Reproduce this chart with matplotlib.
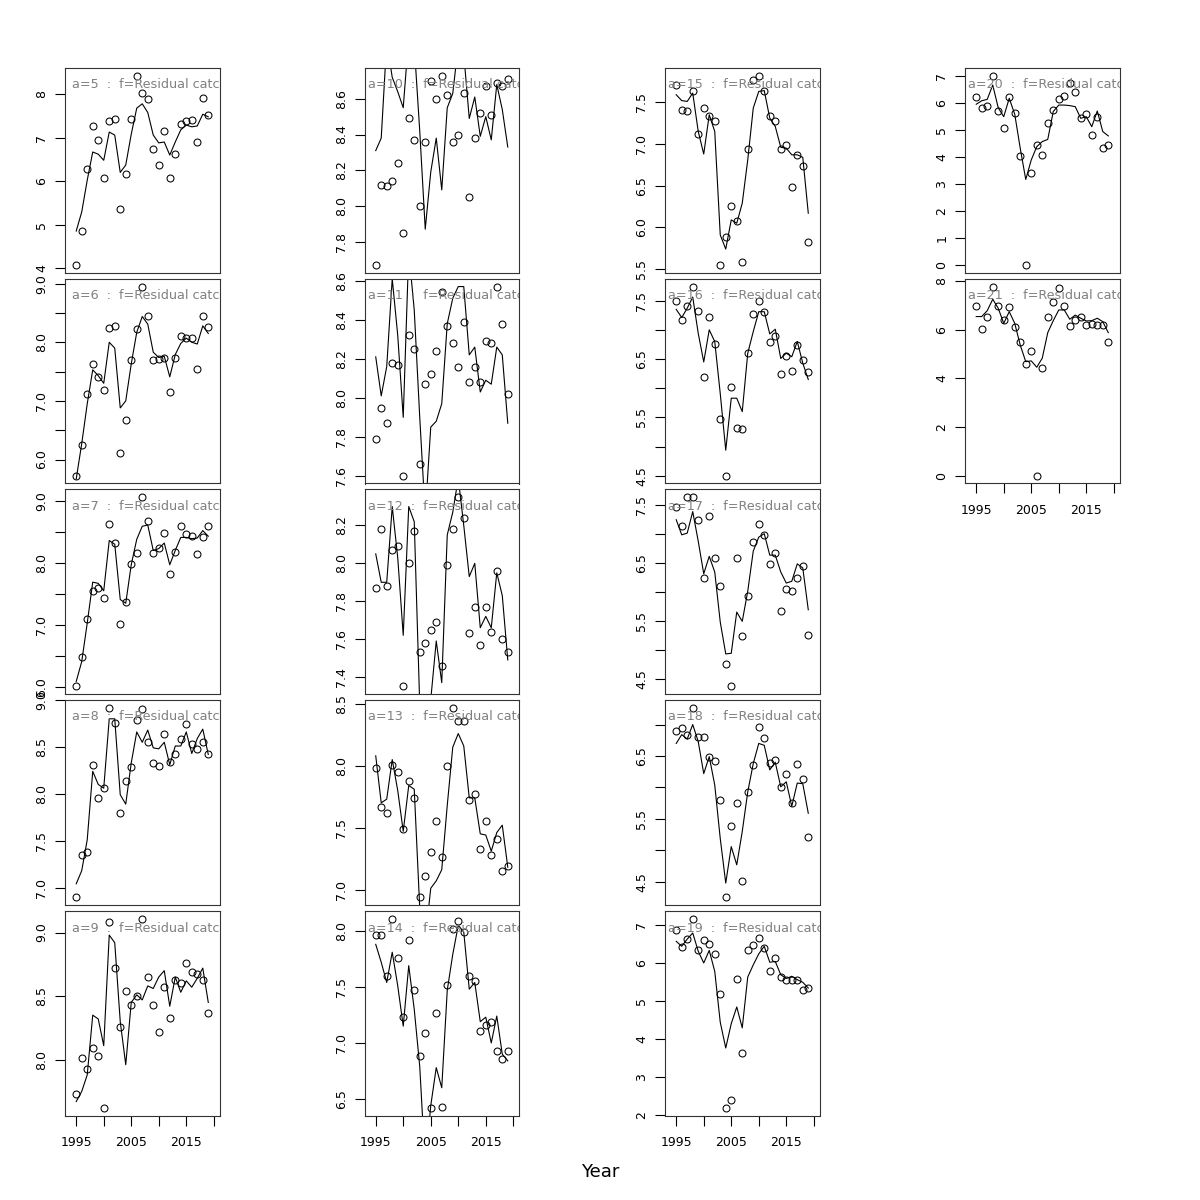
import numpy as np
import matplotlib.pyplot as plt

years = np.arange(1995, 2020)

# observed (points) and fitted (line) log catch per age
obs_5 = [4.07, 4.84, 6.28, 7.27, 6.95, 6.08, 7.38, 7.42, 5.35, 6.17, 7.42, 8.43, 8.04, 7.88, 6.73, 6.38, 7.16, 6.08, 6.63, 7.32, 7.38, 7.40, 6.90, 7.91, 7.52]
fit_5 = [4.85, 5.29, 6.02, 6.67, 6.62, 6.48, 7.13, 7.06, 6.20, 6.37, 7.08, 7.68, 7.78, 7.58, 7.06, 6.88, 6.90, 6.60, 6.90, 7.18, 7.29, 7.25, 7.27, 7.54, 7.48]
obs_6 = [5.72, 6.24, 7.11, 7.63, 7.41, 7.19, 8.24, 8.27, 6.11, 6.68, 7.70, 8.23, 8.95, 8.45, 7.69, 7.72, 7.73, 7.16, 7.74, 8.10, 8.07, 8.07, 7.55, 8.44, 8.26]
fit_6 = [5.67, 6.27, 6.95, 7.53, 7.43, 7.30, 8.00, 7.90, 6.88, 7.00, 7.63, 8.17, 8.44, 8.31, 7.83, 7.74, 7.76, 7.41, 7.79, 7.98, 8.07, 8.00, 7.97, 8.28, 8.15]
obs_7 = [6.01, 6.48, 7.09, 7.55, 7.59, 7.44, 8.63, 8.32, 7.01, 7.37, 7.98, 8.16, 9.06, 8.68, 8.16, 8.24, 8.48, 7.82, 8.17, 8.60, 8.46, 8.44, 8.15, 8.42, 8.60]
fit_7 = [6.09, 6.41, 7.03, 7.69, 7.67, 7.55, 8.36, 8.30, 7.41, 7.35, 7.97, 8.38, 8.59, 8.61, 8.20, 8.23, 8.32, 7.97, 8.20, 8.41, 8.41, 8.39, 8.40, 8.52, 8.43]
obs_8 = [6.90, 7.35, 7.38, 8.31, 7.96, 8.06, 8.92, 8.76, 7.80, 8.14, 8.29, 8.79, 8.90, 8.55, 8.33, 8.30, 8.64, 8.34, 8.42, 8.59, 8.74, 8.53, 8.48, 8.55, 8.42]
fit_8 = [7.04, 7.18, 7.51, 8.24, 8.10, 8.06, 8.80, 8.80, 7.99, 7.89, 8.33, 8.66, 8.55, 8.68, 8.49, 8.48, 8.55, 8.31, 8.51, 8.51, 8.66, 8.43, 8.59, 8.69, 8.42]
obs_9 = [7.73, 8.01, 7.93, 8.09, 8.03, 7.62, 9.08, 8.72, 8.26, 8.54, 8.43, 8.50, 9.11, 8.65, 8.43, 8.22, 8.57, 8.33, 8.63, 8.60, 8.76, 8.69, 8.67, 8.63, 8.37]
fit_9 = [7.67, 7.75, 7.88, 8.35, 8.32, 8.11, 8.98, 8.92, 8.30, 7.96, 8.45, 8.51, 8.47, 8.58, 8.56, 8.65, 8.70, 8.42, 8.65, 8.53, 8.62, 8.57, 8.64, 8.72, 8.45]
obs_10 = [7.67, 8.12, 8.11, 8.14, 8.24, 7.85, 8.49, 8.37, 8.00, 8.36, 8.70, 8.60, 8.73, 8.62, 8.36, 8.40, 8.63, 8.05, 8.38, 8.52, 8.67, 8.51, 8.69, 8.67, 8.71]
fit_10 = [8.31, 8.38, 8.92, 8.72, 8.64, 8.55, 8.95, 8.90, 8.42, 7.87, 8.19, 8.38, 8.09, 8.55, 8.63, 8.90, 8.85, 8.49, 8.61, 8.39, 8.50, 8.37, 8.68, 8.54, 8.33]
obs_11 = [7.79, 7.95, 7.87, 8.18, 8.17, 7.60, 8.32, 8.25, 7.66, 8.07, 8.12, 8.24, 8.54, 8.37, 8.28, 8.16, 8.39, 8.08, 8.16, 8.08, 8.29, 8.28, 8.57, 8.38, 8.02]
fit_11 = [8.21, 8.01, 8.16, 8.61, 8.32, 7.90, 8.75, 8.45, 7.90, 7.40, 7.85, 7.88, 7.97, 8.38, 8.51, 8.57, 8.57, 8.22, 8.26, 8.03, 8.09, 8.07, 8.26, 8.22, 7.87]
obs_12 = [7.87, 8.18, 7.88, 8.07, 8.09, 7.35, 8.00, 8.17, 7.53, 7.58, 7.65, 7.69, 7.46, 7.99, 8.18, 8.35, 8.24, 7.63, 7.77, 7.57, 7.77, 7.64, 7.96, 7.60, 7.53]
fit_12 = [8.05, 7.90, 7.90, 8.30, 8.03, 7.62, 8.30, 8.22, 7.25, 7.00, 7.28, 7.59, 7.37, 8.15, 8.27, 8.45, 8.20, 7.93, 8.00, 7.66, 7.72, 7.66, 7.95, 7.83, 7.49]
obs_13 = [7.98, 7.67, 7.62, 8.01, 7.95, 7.49, 7.88, 7.74, 6.94, 7.11, 7.30, 7.55, 7.26, 8.00, 8.47, 8.36, 8.36, 7.72, 7.77, 7.33, 7.55, 7.28, 7.41, 7.15, 7.19]
fit_13 = [8.08, 7.70, 7.73, 8.05, 7.80, 7.47, 7.84, 7.81, 6.85, 6.60, 7.01, 7.07, 7.16, 7.68, 8.15, 8.26, 8.16, 7.74, 7.74, 7.45, 7.44, 7.31, 7.46, 7.52, 7.18]
obs_14 = [7.96, 7.96, 7.60, 8.11, 7.76, 7.23, 7.92, 7.47, 6.88, 7.09, 6.42, 7.27, 6.43, 7.52, 8.02, 8.09, 7.99, 7.60, 7.55, 7.11, 7.16, 7.19, 6.93, 6.86, 6.93]
fit_14 = [7.88, 7.72, 7.54, 7.81, 7.51, 7.15, 7.69, 7.30, 6.79, 5.90, 6.44, 6.78, 6.60, 7.47, 7.79, 8.05, 7.99, 7.48, 7.54, 7.19, 7.23, 7.00, 7.24, 6.90, 6.84]
obs_15 = [7.71, 7.41, 7.39, 7.63, 7.12, 7.43, 7.34, 7.27, 5.55, 5.88, 6.26, 6.08, 5.58, 6.94, 7.77, 7.82, 7.63, 7.33, 7.28, 6.94, 6.99, 6.48, 6.87, 6.74, 5.82]
fit_15 = [7.59, 7.52, 7.51, 7.61, 7.15, 6.88, 7.35, 7.15, 5.91, 5.74, 6.09, 6.05, 6.29, 6.81, 7.43, 7.63, 7.64, 7.31, 7.21, 6.96, 6.95, 6.87, 6.87, 6.84, 6.17]
obs_16 = [7.50, 7.16, 7.40, 7.74, 7.32, 6.20, 7.22, 6.76, 5.47, 4.50, 6.03, 5.32, 5.31, 6.61, 7.27, 7.50, 7.30, 6.79, 6.89, 6.24, 6.56, 6.30, 6.74, 6.49, 6.28]
fit_16 = [7.35, 7.21, 7.37, 7.56, 6.94, 6.45, 7.00, 6.80, 5.91, 4.94, 5.83, 5.83, 5.60, 6.60, 6.97, 7.31, 7.31, 6.93, 7.01, 6.51, 6.60, 6.54, 6.80, 6.43, 6.15]
obs_17 = [7.47, 7.15, 7.64, 7.64, 7.24, 6.25, 7.32, 6.59, 6.11, 4.77, 4.38, 6.59, 5.25, 5.93, 6.87, 7.18, 6.99, 6.49, 6.68, 5.68, 6.06, 6.02, 6.24, 6.46, 5.26]
fit_17 = [7.25, 6.99, 7.02, 7.39, 6.88, 6.32, 6.62, 6.35, 5.49, 4.94, 4.95, 5.66, 5.50, 6.02, 6.71, 6.95, 7.01, 6.64, 6.64, 6.35, 6.16, 6.19, 6.49, 6.42, 5.70]
obs_18 = [6.90, 6.95, 6.83, 7.27, 6.80, 6.80, 6.48, 6.42, 5.80, 4.26, 5.39, 5.76, 4.51, 5.92, 6.36, 6.96, 6.79, 6.39, 6.44, 6.00, 6.22, 5.76, 6.38, 6.13, 5.21]
fit_18 = [6.70, 6.84, 6.77, 7.00, 6.73, 6.22, 6.49, 6.04, 5.19, 4.48, 5.06, 4.77, 5.30, 5.93, 6.38, 6.70, 6.67, 6.28, 6.40, 6.01, 6.09, 5.70, 6.07, 6.06, 5.59]
obs_19 = [6.89, 6.42, 6.63, 7.18, 6.34, 6.61, 6.51, 6.24, 5.18, 2.19, 2.39, 5.59, 3.64, 6.34, 6.48, 6.68, 6.40, 5.80, 6.14, 5.65, 5.57, 5.57, 5.56, 5.29, 5.35]
fit_19 = [6.58, 6.45, 6.64, 6.80, 6.32, 6.01, 6.34, 5.79, 4.45, 3.77, 4.41, 4.85, 4.30, 5.64, 5.96, 6.25, 6.45, 6.03, 6.05, 5.70, 5.60, 5.66, 5.57, 5.50, 5.35]
obs_20 = [6.19, 5.81, 5.86, 7.00, 5.69, 5.05, 6.21, 5.60, 4.01, 0.00, 3.38, 4.43, 4.07, 5.23, 5.73, 6.12, 6.25, 6.74, 6.38, 5.43, 5.58, 4.81, 5.48, 4.31, 4.43]
fit_20 = [5.94, 6.07, 6.12, 6.65, 5.81, 5.48, 6.16, 5.57, 4.31, 3.16, 3.88, 4.37, 4.56, 4.64, 5.67, 5.91, 5.91, 5.89, 5.85, 5.42, 5.48, 5.11, 5.69, 4.93, 4.77]
obs_21 = [6.99, 6.02, 6.51, 7.77, 6.99, 6.40, 6.92, 6.13, 5.51, 4.59, 5.13, 0.00, 4.44, 6.52, 7.12, 7.73, 6.99, 6.15, 6.40, 6.51, 6.19, 6.22, 6.19, 6.19, 5.51]
fit_21 = [6.54, 6.54, 6.78, 7.25, 6.88, 6.26, 6.74, 6.26, 5.37, 4.69, 4.72, 4.46, 4.83, 5.88, 6.37, 6.81, 6.81, 6.43, 6.60, 6.47, 6.36, 6.37, 6.47, 6.33, 5.88]

panels = [
    (5, obs_5, fit_5), (6, obs_6, fit_6), (7, obs_7, fit_7), (8, obs_8, fit_8), (9, obs_9, fit_9),
    (10, obs_10, fit_10), (11, obs_11, fit_11), (12, obs_12, fit_12), (13, obs_13, fit_13), (14, obs_14, fit_14),
    (15, obs_15, fit_15), (16, obs_16, fit_16), (17, obs_17, fit_17), (18, obs_18, fit_18), (19, obs_19, fit_19),
    (20, obs_20, fit_20), (21, obs_21, fit_21),
]

# y tick step per age, and whether every other label is dropped (as R does)
tick_step = {5: 1, 6: 0.5, 7: 0.5, 8: 0.5, 9: 0.5, 10: 0.2, 11: 0.2, 12: 0.2, 13: 0.5,
             14: 0.5, 15: 0.5, 16: 0.5, 17: 0.5, 18: 0.5, 19: 1, 20: 1, 21: 2}
label_every = {6: 2, 7: 2, 16: 2, 17: 2, 18: 2}
bottom_ages = [9, 14, 19, 21]

W = H = 1200
col_left = [65, 364.5, 665, 965]
row_top = [68, 279, 489.5, 700, 911]
pw, ph = 154.5, 204.5

fig = plt.figure(figsize=(12, 12), dpi=100)

for k, (age, obs, fit) in enumerate(panels):
    col, row = k // 5, k % 5
    ax = fig.add_axes([col_left[col] / W, 1 - (row_top[row] + ph) / H, pw / W, ph / H])

    ax.plot(years, fit, color='black', lw=0.8)
    ax.plot(years, obs, 'o', mfc='none', mec='black', mew=0.75, ms=5)

    lo, hi = min(obs), max(obs)
    pad = 0.04 * (hi - lo)
    ax.set_ylim(lo - pad, hi + pad)
    ax.set_xlim(1994 - 1.04, 2020 + 1.04)

    step = tick_step[age]
    first = np.ceil((lo - pad) / step - 1e-9) * step
    ticks = np.arange(first, hi + pad + 1e-9, step)
    fmt = '%.1f' if step < 1 else '%d'
    every = label_every.get(age, 1)
    labels = [fmt % t if i % every == 0 else '' for i, t in enumerate(ticks)]
    ax.set_yticks(ticks)
    ax.set_yticklabels(labels)
    ax.tick_params(axis='y', length=7, width=0.8, pad=5, labelsize=9)
    for lab in ax.get_yticklabels():
        lab.set_rotation(90)
        lab.set_va('center')

    ax.set_xticks([1995, 2000, 2005, 2010, 2015, 2020])
    if age in bottom_ages:
        ax.set_xticklabels(['1995', '', '2005', '', '2015', ''])
        ax.tick_params(axis='x', length=7, width=0.8, pad=8, labelsize=9)
    else:
        ax.tick_params(axis='x', bottom=False, labelbottom=False)

    for s in ax.spines.values():
        s.set_linewidth(0.8)
        s.set_color('#333333')

    # the label sits inside the box and is cut off at its right edge
    shift = 3 + 3.5 * (2 - len(str(age)))
    ax.text(shift / pw, 1 - 17 / ph, f"a={age}  :  f=Residual catch", transform=ax.transAxes,
            color='0.5', fontsize=9.2, ha='left', va='center', clip_on=True)

fig.text(0.5, 1 - 1172 / H, 'Year', ha='center', va='center', fontsize=13)

fig.savefig('out.png', dpi=100)
